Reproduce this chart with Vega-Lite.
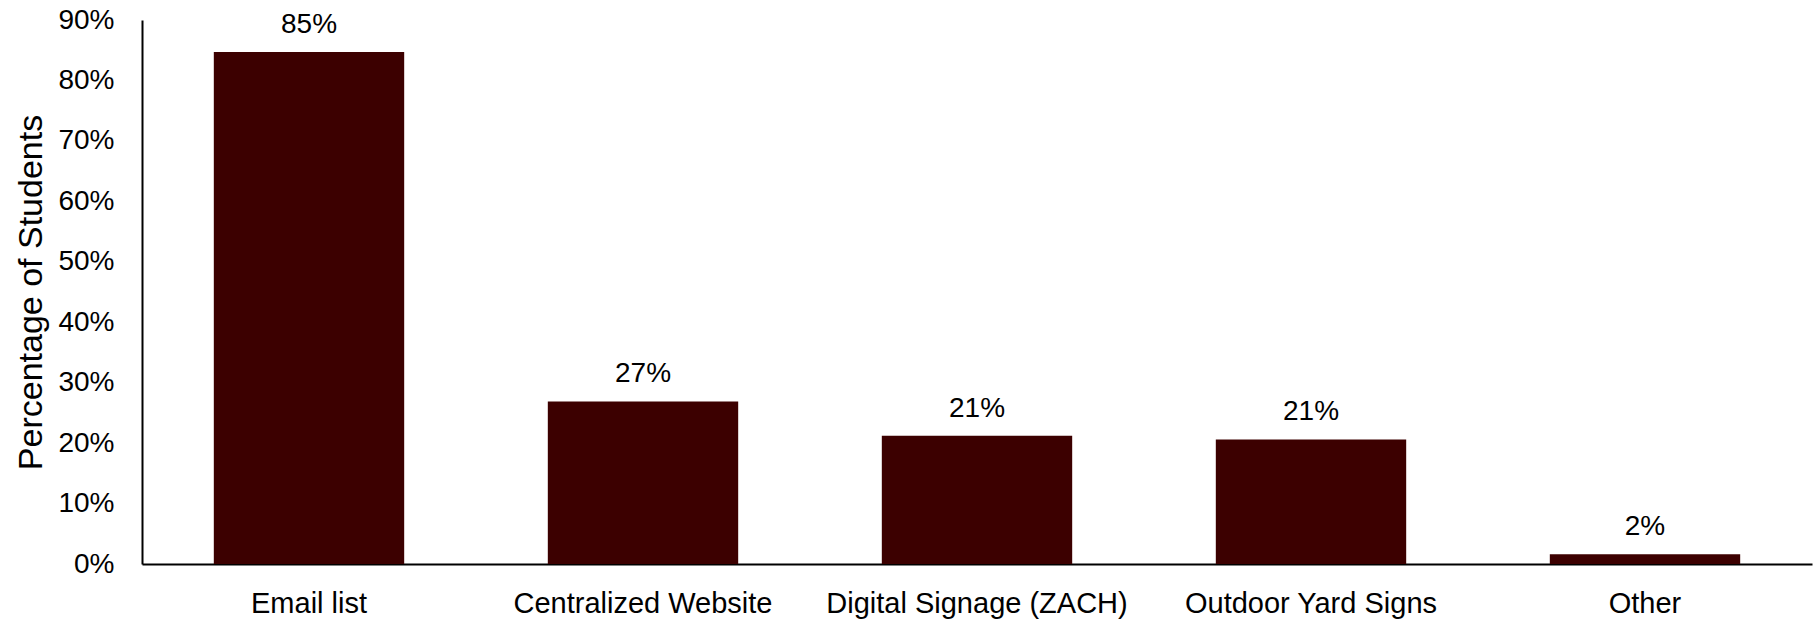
{
  "$schema": "https://vega.github.io/schema/vega-lite/v6.json",
  "autosize": {"type": "none"},
  "width": 1670,
  "height": 544,
  "padding": {"left": 142, "top": 20, "right": 7, "bottom": 55},
  "background": "white",
  "config": {
    "view": {"stroke": null},
    "font": "Liberation Sans",
    "axis": {"labelFont": "Liberation Sans", "titleFont": "Liberation Sans", "labelColor": "#000", "titleColor": "#000", "titleFontWeight": "normal"}
  },
  "data": {
    "values": [
      {"category": "Email list", "pct": 0.847},
      {"category": "Centralized Website", "pct": 0.269},
      {"category": "Digital Signage (ZACH)", "pct": 0.212},
      {"category": "Outdoor Yard Signs", "pct": 0.206},
      {"category": "Other", "pct": 0.016}
    ]
  },
  "encoding": {
    "x": {
      "field": "category", "type": "nominal", "sort": null,
      "scale": {"paddingInner": 0.43, "paddingOuter": 0.215},
      "axis": {"title": null, "labelAngle": 0, "ticks": false, "domainColor": "#000", "domainWidth": 2, "labelFontSize": 29, "labelPadding": 25, "labelLimit": 0}
    },
    "y": {
      "field": "pct", "type": "quantitative",
      "scale": {"domain": [0, 0.9]},
      "axis": {"title": "Percentage of Students", "format": ".0%", "values": [0,0.1,0.2,0.3,0.4,0.5,0.6,0.7,0.8,0.9], "grid": false, "ticks": false, "domainColor": "#000", "domainWidth": 2, "labelFontSize": 28, "labelPadding": 28, "titleFontSize": 34, "titlePadding": 9}
    }
  },
  "layer": [
    {"mark": {"type": "bar", "color": "#3C0000"}},
    {"mark": {"type": "text", "baseline": "alphabetic", "dy": -19, "fontSize": 28, "color": "#000"},
     "encoding": {"text": {"field": "pct", "type": "quantitative", "format": ".0%"}}}
  ]
}
